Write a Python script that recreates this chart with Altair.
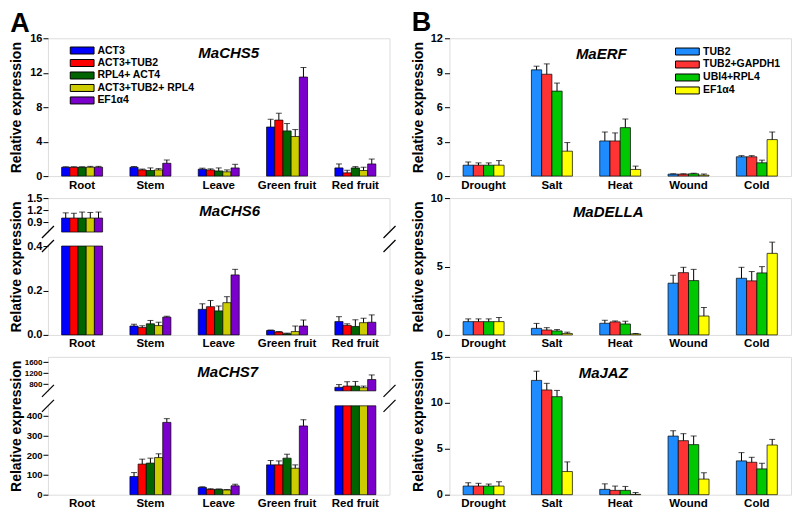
import altair as alt
import pandas as pd

FONT = "Liberation Sans"

# ---------------- data ----------------
A_CATS = ["Root", "Stem", "Leave", "Green fruit", "Red fruit"]
A_SERIES = ["ACT3", "ACT3+TUB2", "RPL4+ ACT4", "ACT3+TUB2+ RPL4", "EF1α4"]
A_COLORS = ["#0000FF", "#FF0000", "#006400", "#CCCC00", "#7B00CC"]

B_CATS = ["Drought", "Salt", "Heat", "Wound", "Cold"]
B_SERIES = ["TUB2", "TUB2+GAPDH1", "UBI4+RPL4", "EF1α4"]
B_COLORS = ["#1E8CFF", "#FF3333", "#00C800", "#FFFF00"]

CHS5_VAL = {
    "ACT3": [1.03, 1.03, 0.80, 5.70, 0.95],
    "ACT3+TUB2": [1.03, 0.72, 0.72, 6.50, 0.38],
    "RPL4+ ACT4": [1.03, 0.65, 0.60, 5.25, 0.95],
    "ACT3+TUB2+ RPL4": [1.03, 0.72, 0.50, 4.60, 0.65],
    "EF1α4": [1.03, 1.49, 0.95, 11.50, 1.41],
}
CHS5_ERR = {
    "ACT3": [0.05, 0.08, 0.12, 0.90, 0.46],
    "ACT3+TUB2": [0.05, 0.10, 0.12, 0.80, 0.30],
    "RPL4+ ACT4": [0.05, 0.30, 0.35, 0.85, 0.15],
    "ACT3+TUB2+ RPL4": [0.10, 0.15, 0.22, 0.80, 0.38],
    "EF1α4": [0.10, 0.38, 0.42, 1.10, 0.57],
}
CHS6_VAL = {
    "ACT3": [1.0, 0.040, 0.115, 0.020, 0.060],
    "ACT3+TUB2": [1.0, 0.033, 0.127, 0.013, 0.043],
    "RPL4+ ACT4": [1.0, 0.050, 0.108, 0.005, 0.038],
    "ACT3+TUB2+ RPL4": [1.0, 0.042, 0.145, 0.015, 0.055],
    "EF1α4": [1.0, 0.080, 0.270, 0.040, 0.057],
}
CHS6_ERR = {
    "ACT3": [0.13, 0.008, 0.025, 0.002, 0.022],
    "ACT3+TUB2": [0.12, 0.008, 0.028, 0.002, 0.007],
    "RPL4+ ACT4": [0.15, 0.015, 0.022, 0.003, 0.030],
    "ACT3+TUB2+ RPL4": [0.14, 0.015, 0.027, 0.025, 0.020],
    "EF1α4": [0.15, 0.004, 0.025, 0.027, 0.033],
}
CHS7_VAL = {
    "ACT3": [0, 92, 37, 151, 680],
    "ACT3+TUB2": [0, 155, 27, 151, 725],
    "RPL4+ ACT4": [0, 160, 27, 185, 725],
    "ACT3+TUB2+ RPL4": [0, 188, 24, 134, 665],
    "EF1α4": [0, 366, 45, 348, 965],
}
CHS7_ERR = {
    "ACT3": [0, 20, 3, 22, 100],
    "ACT3+TUB2": [0, 25, 3, 20, 160],
    "RPL4+ ACT4": [0, 25, 2, 20, 170],
    "ACT3+TUB2+ RPL4": [0, 19, 2, 17, 60],
    "EF1α4": [0, 19, 8, 32, 170],
}
ERF_VAL = {
    "TUB2": [0.95, 9.25, 3.06, 0.17, 1.68],
    "TUB2+GAPDH1": [0.95, 8.87, 3.06, 0.17, 1.68],
    "UBI4+RPL4": [0.95, 7.40, 4.22, 0.20, 1.16],
    "EF1α4": [0.95, 2.17, 0.58, 0.08, 3.18],
}
ERF_ERR = {
    "TUB2": [0.28, 0.32, 0.78, 0.03, 0.10],
    "TUB2+GAPDH1": [0.20, 0.90, 0.70, 0.03, 0.10],
    "UBI4+RPL4": [0.20, 0.70, 0.75, 0.05, 0.23],
    "EF1α4": [0.40, 0.75, 0.29, 0.10, 0.66],
}
DELLA_VAL = {
    "TUB2": [0.97, 0.48, 0.85, 3.78, 4.14],
    "TUB2+GAPDH1": [0.97, 0.36, 0.95, 4.55, 3.95],
    "UBI4+RPL4": [0.97, 0.29, 0.80, 3.97, 4.53],
    "EF1α4": [0.97, 0.10, 0.07, 1.38, 5.96],
}
DELLA_ERR = {
    "TUB2": [0.20, 0.36, 0.22, 0.58, 0.80],
    "TUB2+GAPDH1": [0.20, 0.17, 0.07, 0.39, 0.68],
    "UBI4+RPL4": [0.20, 0.10, 0.20, 0.82, 0.46],
    "EF1α4": [0.30, 0.10, 0.03, 0.63, 0.82],
}
JAZ_VAL = {
    "TUB2": [0.94, 12.44, 0.58, 6.38, 3.68],
    "TUB2+GAPDH1": [0.94, 11.40, 0.47, 5.88, 3.53],
    "UBI4+RPL4": [0.94, 10.67, 0.47, 5.45, 2.81],
    "EF1α4": [0.94, 2.52, 0.04, 1.70, 5.41],
}
JAZ_ERR = {
    "TUB2": [0.36, 1.00, 0.60, 0.58, 0.90],
    "TUB2+GAPDH1": [0.30, 0.72, 0.47, 0.76, 0.54],
    "UBI4+RPL4": [0.22, 0.68, 0.43, 0.94, 0.61],
    "EF1α4": [0.47, 1.05, 0.20, 0.68, 0.61],
}

W = 342


def long_df(cats, series, vals, errs):
    rows = []
    for s in series:
        for c, v, e in zip(cats, vals[s], errs[s]):
            rows.append({"cat": c, "series": s, "value": v, "top": v + e, "base": 0.0})
    return pd.DataFrame(rows)


def xenc(cats):
    return alt.X(
        "cat:N", sort=cats,
        scale=alt.Scale(domain=cats, paddingInner=0.4, paddingOuter=0.2),
        axis=alt.Axis(title=None, labelAngle=0, ticks=False, domain=False, labelPadding=3,
                      labelFontSize=11.5, labelFontWeight="bold", labelFont=FONT, labelColor="black"),
    )


def xoff(series):
    return alt.XOffset("series:N", sort=series,
                       scale=alt.Scale(domain=series, paddingInner=0, paddingOuter=0))


def cenc(series, colors, legend):
    return alt.Color("series:N", sort=series, scale=alt.Scale(domain=series, range=colors), legend=legend)


def yaxis(values, fmt, title, label_pad=1, title_pad=6, lfs=11, **kw):
    return alt.Axis(values=values, format=fmt, title=title, orient="left", domain=False, grid=False,
                    ticks=True, tickSize=5, tickColor="black", labelFontSize=lfs, labelFontWeight="bold",
                    labelFont=FONT, labelColor="black", labelPadding=label_pad, labelOverlap=False,
                    labelBound=False, titleFontSize=14,
                    titleFont=FONT, titleFontWeight="bold", titleColor="black", titlePadding=title_pad, **kw)


def make_legend(x, y, rowpad, loff):
    return alt.Legend(orient="none", legendX=x, legendY=y, title=None, padding=0,
                      symbolType="M-3.4,-1H3.4V1H-3.4Z", symbolSize=49, symbolStrokeColor="black",
                      symbolStrokeWidth=1, symbolOpacity=1, labelFontSize=10.5, labelFont=FONT,
                      labelFontWeight="bold", labelColor="black", labelOffset=loff, rowPadding=rowpad)


def title_mark(text, x, y):
    return alt.Chart(pd.DataFrame({"t": [text]})).mark_text(
        fontSize=15, fontWeight="bold", fontStyle="italic", font=FONT, color="black",
        align="center", baseline="middle").encode(text="t:N", x=alt.value(x), y=alt.value(y))


def letter_mark(text, x, y):
    return alt.Chart(pd.DataFrame({"t": [text]})).mark_text(
        fontSize=27, fontWeight="bold", font=FONT, color="black",
        align="center", baseline="middle").encode(text="t:N", x=alt.value(x), y=alt.value(y))


def simple_panel(df, cats, series, colors, ymax, ticks, fmt, ttl, txy, legend, H,
                 label_pad=1, title_pad=6, extra=None):
    base = alt.Chart(df)
    sc = alt.Scale(domain=[0, ymax], nice=False)
    ax = yaxis(ticks, fmt, "Relative expression", label_pad, title_pad)
    bars = base.mark_bar(stroke="black", strokeWidth=0.7).encode(
        x=xenc(cats), xOffset=xoff(series), y=alt.Y("value:Q", scale=sc, axis=ax),
        color=cenc(series, colors, legend))
    err = base.mark_rule(color="black", strokeWidth=1).encode(
        x=xenc(cats), xOffset=xoff(series), y=alt.Y("value:Q", scale=sc, axis=ax), y2="top:Q")
    cap = base.mark_tick(color="black", thickness=1, size=6).encode(
        x=xenc(cats), xOffset=xoff(series), y=alt.Y("top:Q", scale=sc, axis=ax))
    layers = [bars, err, cap, title_mark(ttl, *txy)]
    if extra is not None:
        layers.append(extra)
    return alt.layer(*layers).properties(width=W, height=H)


def break_marks(y1, y2):
    d = pd.DataFrame({"k": [0]})
    out = []
    for xe in (0, W):
        out.append(alt.Chart(d).mark_rule(color="white", strokeWidth=4).encode(
            x=alt.value(xe), y=alt.value(y1 + 1), y2=alt.value(y2 - 1)))
        for yc in (y1, y2):
            out.append(alt.Chart(d).mark_rule(color="black", strokeWidth=1.2).encode(
                x=alt.value(xe - 6), x2=alt.value(xe + 6), y=alt.value(yc + 6), y2=alt.value(yc - 6)))
    return out


def broken_panel(df, cats, series, colors, low_dom, low_rng, up_dom, up_rng,
                 low_ticks, up_ticks, fmt, ttl, txy, H, title_x, low_fs=11, up_fs=11):
    base = alt.Chart(df).transform_filter("datum.value > 0")
    low_sc = alt.Scale(domain=low_dom, range=low_rng, clamp=True, nice=False, zero=False)
    up_sc = alt.Scale(domain=up_dom, range=up_rng, clamp=True, nice=False, zero=False)
    low_ax = yaxis(low_ticks, fmt, "Relative expression", lfs=low_fs, titleX=title_x, titleY=H / 2,
                   titleBaseline="bottom", titleAngle=270)
    up_ax = yaxis(up_ticks, fmt, None, lfs=up_fs)
    col = cenc(series, colors, None)

    low_bars = base.mark_bar(stroke="black", strokeWidth=0.7).encode(
        x=xenc(cats), xOffset=xoff(series), y=alt.Y("value:Q", scale=low_sc, axis=low_ax),
        y2="base:Q", color=col)
    low_e = base.transform_filter(f"datum.value <= {low_dom[1]}")
    low_err = low_e.mark_rule(color="black", strokeWidth=1).encode(
        x=xenc(cats), xOffset=xoff(series), y=alt.Y("value:Q", scale=low_sc, axis=low_ax), y2="top:Q")
    low_cap = low_e.mark_tick(color="black", thickness=1, size=6).encode(
        x=xenc(cats), xOffset=xoff(series), y=alt.Y("top:Q", scale=low_sc, axis=low_ax))
    low = alt.layer(low_bars, low_err, low_cap)

    up_b = base.transform_filter(f"datum.value >= {up_dom[0]}")
    up_bars = up_b.mark_bar(stroke="black", strokeWidth=0.7).encode(
        x=xenc(cats), xOffset=xoff(series), y=alt.Y("value:Q", scale=up_sc, axis=up_ax),
        y2="base:Q", color=col)
    up_err = up_b.mark_rule(color="black", strokeWidth=1).encode(
        x=xenc(cats), xOffset=xoff(series), y=alt.Y("value:Q", scale=up_sc, axis=up_ax), y2="top:Q")
    up_cap = up_b.mark_tick(color="black", thickness=1, size=6).encode(
        x=xenc(cats), xOffset=xoff(series), y=alt.Y("top:Q", scale=up_sc, axis=up_ax))
    up = alt.layer(up_bars, up_err, up_cap)

    layers = [low, up] + break_marks(up_rng[0], low_rng[1]) + [title_mark(ttl, *txy)]
    return alt.layer(*layers).resolve_scale(y="independent").properties(width=W, height=H)


# ---------------- panels ----------------
dfA1 = long_df(A_CATS, A_SERIES, CHS5_VAL, CHS5_ERR)
dfA2 = long_df(A_CATS, A_SERIES, CHS6_VAL, CHS6_ERR)
dfA3 = long_df(A_CATS, A_SERIES, CHS7_VAL, CHS7_ERR)
dfB1 = long_df(B_CATS, B_SERIES, ERF_VAL, ERF_ERR)
dfB2 = long_df(B_CATS, B_SERIES, DELLA_VAL, DELLA_ERR)
dfB3 = long_df(B_CATS, B_SERIES, JAZ_VAL, JAZ_ERR)

A1 = simple_panel(dfA1, A_CATS, A_SERIES, A_COLORS, 16, [0, 4, 8, 12, 16], "d", "MaCHS5", (181, 15),
                  make_legend(29, 7, 0.5, 10), 138, extra=letter_mark("A", -28, -14.5))
A2 = broken_panel(dfA2, A_CATS, A_SERIES, A_COLORS, [0, 0.4], [137, 48], [0.65, 1.5], [34, 0],
                  [0, 0.2, 0.4], [0.9, 1.2, 1.5], ".1f", "MaCHS6", (182, 13), 137, -24.5)
A3 = broken_panel(dfA3, A_CATS, A_SERIES, A_COLORS, [0, 450], [138, 49], [550, 1800], [34, 0],
                  [0, 100, 200, 300, 400], [800, 1200, 1600], "d", "MaCHS7", (180, 15), 138, -24.5,
                  low_fs=9.5, up_fs=8)

B1 = simple_panel(dfB1, B_CATS, B_SERIES, B_COLORS, 12, [0, 3, 6, 9, 12], "d", "MaERF", (152, 16),
                  make_legend(233, 8, 1, 10.5), 138, label_pad=2, title_pad=5,
                  extra=letter_mark("B", -28, -15))
B2 = simple_panel(dfB2, B_CATS, B_SERIES, B_COLORS, 10, [0, 5, 10], "d", "MaDELLA", (159, 14),
                  None, 137, label_pad=2, title_pad=5)
B3 = simple_panel(dfB3, B_CATS, B_SERIES, B_COLORS, 15, [0, 5, 10, 15], "d", "MaJAZ", (154, 16),
                  None, 138, label_pad=2, title_pad=5)

chart = (
    alt.concat(A1, B1, A2, B2, A3, B3, columns=2, spacing={"row": 22, "column": 60}, bounds="flush")
    .resolve_scale(color="independent", xOffset="independent", x="independent")
    .properties(padding={"left": 0, "top": 0, "right": 0, "bottom": 0}, background="white")
    .configure_view(stroke="#222222", strokeWidth=1.3)
    .configure(font=FONT)
)

chart.save("out.html", embed_options={"renderer": "svg", "actions": False})
